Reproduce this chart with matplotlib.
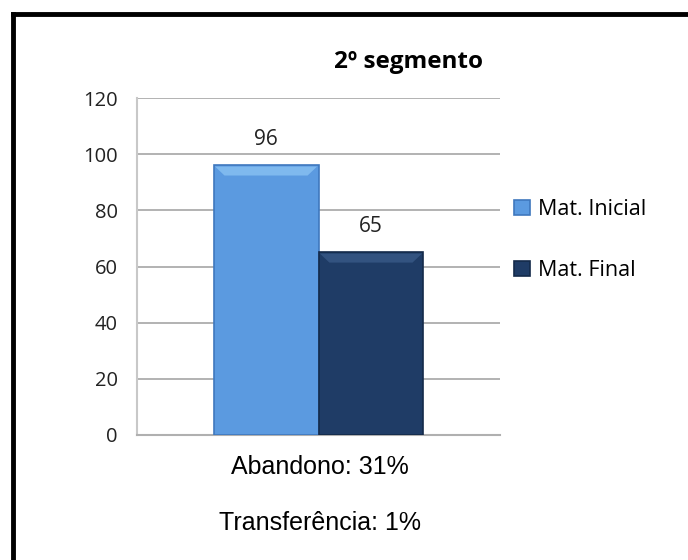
import matplotlib
matplotlib.use("Agg")
import matplotlib.pyplot as plt
from matplotlib.patches import Polygon

series = ["Mat. Inicial", "Mat. Final"]
values = [96, 65]
colors = ["#5B9AE0", "#1F3C66"]
edge_colors = ["#3F78BE", "#142A4A"]
highlight = ["#8CC4F4", "#3A5C8A"]
yticks = [0, 20, 40, 60, 80, 100, 120]
title = "2º segmento"
notes = ["Abandono: 31%", "Transferência: 1%"]

FONT = ["Open Sans", "DejaVu Sans"]

fig = plt.figure(figsize=(6.88, 5.6), dpi=100)
fig.patch.set_facecolor("white")

# outer border (top and left visible)
fig.add_artist(plt.Line2D([13/688, 1.01], [1 - 14/560, 1 - 14/560], color="black", lw=3.5,
                          transform=fig.transFigure))
fig.add_artist(plt.Line2D([13/688, 13/688], [-0.01, 1 - 14/560], color="black", lw=3.5,
                          transform=fig.transFigure))

ax = fig.add_axes([137/688, (560-435)/560, (500-137)/688, (435-98)/560])
ax.set_xlim(-0.5, 0.5)
ax.set_ylim(0, 120)
ax.set_yticks(yticks)
ax.set_xticks([])
ax.yaxis.grid(True, color="#A6A6A6", lw=1.2)
ax.set_axisbelow(True)
for s in ["top", "right"]:
    ax.spines[s].set_visible(False)
ax.spines["left"].set_color("#C8C8C8")
ax.spines["left"].set_linewidth(1.5)
ax.spines["bottom"].set_color("#B0B0B0")
ax.spines["bottom"].set_linewidth(1.5)
ax.tick_params(axis="y", length=0, pad=14, labelsize=14.5, labelcolor="#222222")
for lab in ax.get_yticklabels():
    lab.set_family(FONT)

width = 0.289
offsets = [-0.1445, 0.1445]
for i, (v, off) in enumerate(zip(values, offsets)):
    bars = ax.bar(off, v, width=width, color=colors[i], edgecolor=edge_colors[i], lw=1.2,
                  label=series[i], zorder=3)
    b = bars[0]
    x0, x1 = b.get_x(), b.get_x() + width
    # bevel highlight at top (trapezoid)
    ax.add_patch(Polygon([(x0 + 0.004, v - 0.4), (x1 - 0.004, v - 0.4),
                          (x1 - 0.03, v - 3.6), (x0 + 0.03, v - 3.6)],
                         closed=True, color=highlight[i], alpha=0.75, lw=0, zorder=4))
    ax.text(off, v + 5.5, str(v), ha="center", va="bottom", fontsize=15,
            color="#222222", family=FONT)

leg = ax.legend(loc="center left", bbox_to_anchor=(0.99, (435 - 240) / 337), frameon=False,
                handlelength=0.75, handleheight=0.75, handletextpad=0.4,
                labelspacing=1.85, borderaxespad=0.4,
                prop={"family": FONT, "size": 15.5})

fig.text(408/688, 1 - 62/560, title, ha="center", va="center", fontsize=17.5,
         fontweight="bold", family=FONT)
fig.text(320/688, 1 - 467/560, notes[0], ha="center", va="center", fontsize=18,
         family=["Liberation Sans", "DejaVu Sans"])
fig.text(320/688, 1 - 523/560, notes[1], ha="center", va="center", fontsize=18,
         family=["Liberation Sans", "DejaVu Sans"])

fig.savefig("out.png", dpi=100)
